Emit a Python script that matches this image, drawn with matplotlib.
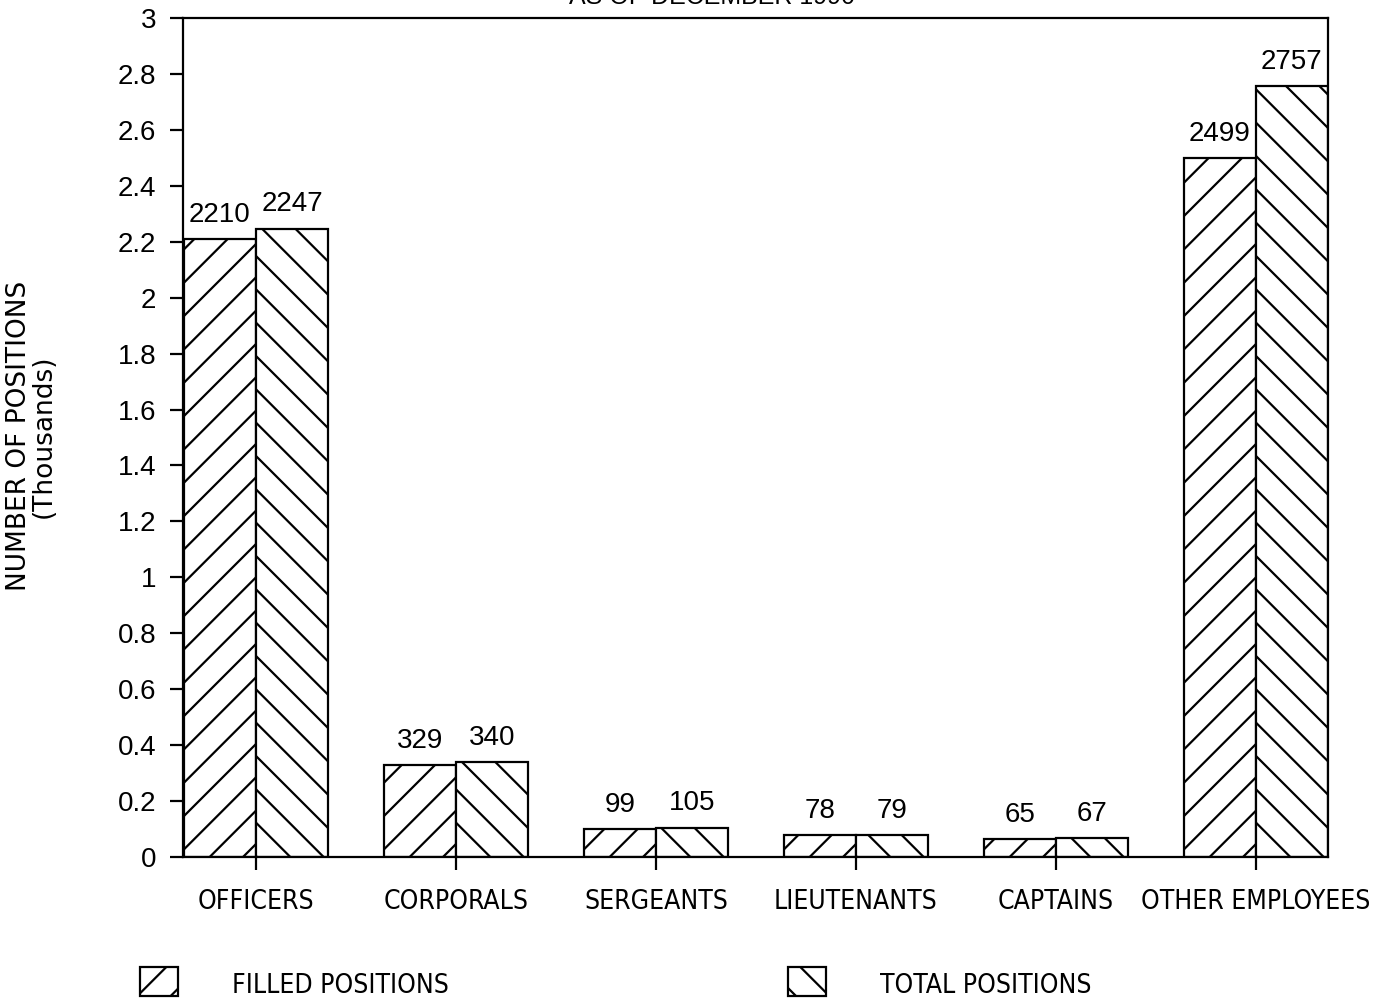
import matplotlib
matplotlib.use("Agg")
import matplotlib.pyplot as plt
import numpy as np
from matplotlib.patches import Rectangle
from matplotlib.ticker import FuncFormatter

# data (thousands of positions)
categories = ["OFFICERS", "CORPORALS", "SERGEANTS", "LIEUTENANTS", "CAPTAINS", "OTHER EMPLOYEES"]
filled = [2210, 329, 99, 78, 65, 2499]
total = [2247, 340, 105, 79, 67, 2757]
y_ticks = [0, 0.2, 0.4, 0.6, 0.8, 1, 1.2, 1.4, 1.6, 1.8, 2, 2.2, 2.4, 2.6, 2.8, 3]

plt.rcParams["hatch.linewidth"] = 0.8
plt.rcParams["font.family"] = ["Liberation Sans", "DejaVu Sans"]
cond = dict(fontfamily="DejaVu Sans", fontstretch="condensed")

fig = plt.figure(figsize=(6.895, 5.01), dpi=200)
ax = fig.add_axes([0.1327, 0.1447, 0.8303, 0.8373])

x = np.arange(len(categories))
w = 0.36
f_vals = np.array(filled) / 1000
t_vals = np.array(total) / 1000

ax.bar(x - w / 2, f_vals, w, facecolor="white", edgecolor="black", hatch="//", linewidth=0.8)
ax.bar(x + w / 2, t_vals, w, facecolor="white", edgecolor="black", hatch="\\\\", linewidth=0.8)

for xi, v, n in zip(x, f_vals, filled):
    ax.text(xi - w / 2, v + 0.04, str(n), ha="center", va="bottom", fontsize=10)
for xi, v, n in zip(x, t_vals, total):
    ax.text(xi + w / 2, v + 0.04, str(n), ha="center", va="bottom", fontsize=10)

ax.set_xlim(-0.365, len(categories) - 1 + 0.362)
ax.set_ylim(0, 3)
ax.set_yticks(y_ticks)
ax.yaxis.set_major_formatter(FuncFormatter(lambda v, p: f"{v:g}"))
ax.set_xticks(x)
ax.set_xticklabels(categories, fontsize=9.5, **cond)
ax.tick_params(axis="y", direction="out", length=4.7, width=0.8, pad=5, labelsize=10)
ax.tick_params(axis="x", direction="out", length=4.5, width=0.8, pad=7)
for s in ax.spines.values():
    s.set_linewidth(0.8)

fig.text(0.0135, 0.565, "NUMBER OF POSITIONS", rotation=90, ha="center", va="center",
         fontfamily="DejaVu Sans", fontsize=9.5)
fig.text(0.0315, 0.565, "(Thousands)", rotation=90, ha="center", va="center",
         fontfamily="DejaVu Sans", fontsize=9.5)

# title, mostly cut off at the top edge
fig.text(0.516, 1.003, "AS OF DECEMBER 1990", ha="center", va="center", fontsize=9)

# legend
fig.patches.append(Rectangle((140 / 1379, 1 - 996 / 1002), 38 / 1379, 29 / 1002,
                             transform=fig.transFigure, facecolor="white", edgecolor="black",
                             hatch="//", linewidth=0.8))
fig.text(232 / 1379, 1 - 986 / 1002, "FILLED POSITIONS", ha="left", va="center",
         fontsize=9.5, **cond)
fig.patches.append(Rectangle((788 / 1379, 1 - 996 / 1002), 38 / 1379, 29 / 1002,
                             transform=fig.transFigure, facecolor="white", edgecolor="black",
                             hatch="\\\\", linewidth=0.8))
fig.text(880 / 1379, 1 - 986 / 1002, "TOTAL POSITIONS", ha="left", va="center",
         fontsize=9.5, **cond)

fig.savefig("out.png", dpi=200)
